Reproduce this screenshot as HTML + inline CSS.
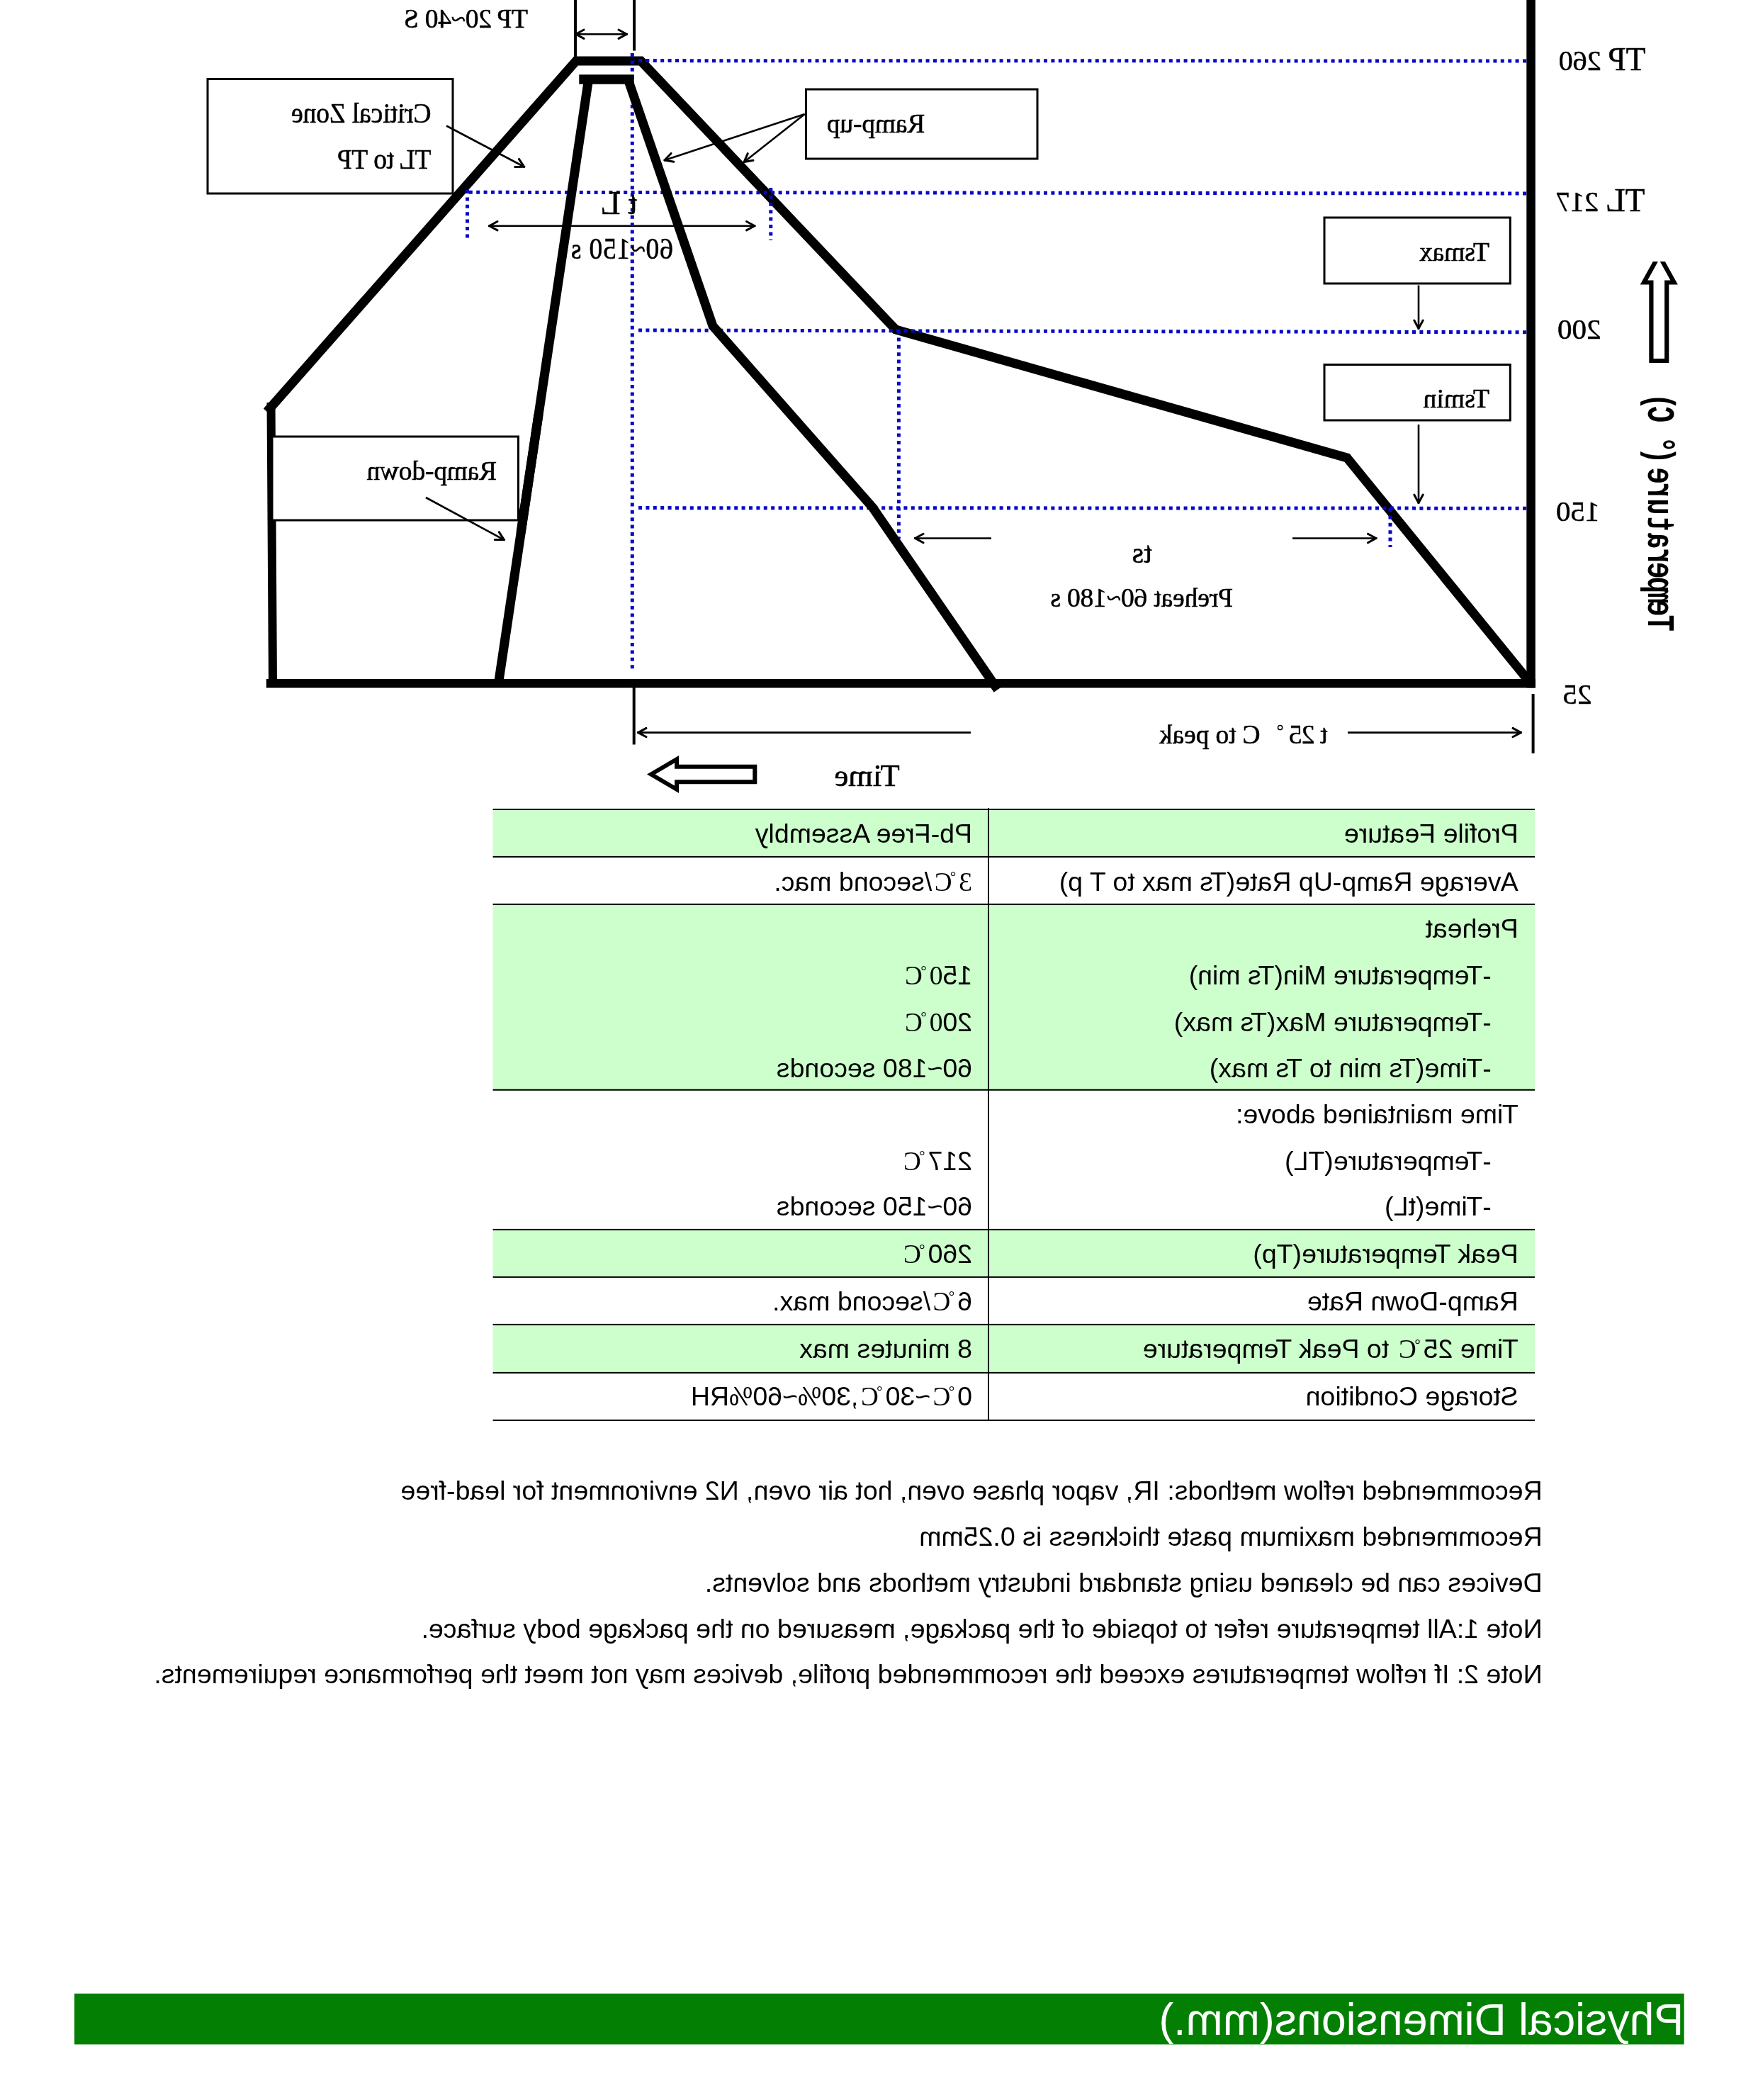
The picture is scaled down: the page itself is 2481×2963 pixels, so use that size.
<!DOCTYPE html>
<html lang="en"><head><meta charset="utf-8"><title>Reflow Profile</title>
<style>
html,body{margin:0;padding:0;background:#fff;}
body{width:2481px;height:2963px;position:relative;overflow:hidden;font-family:"Liberation Sans",sans-serif;}
svg text{white-space:pre;}
</style></head><body>
<svg width="2481" height="2963" viewBox="0 0 2481 2963" style="position:absolute;left:0;top:0;will-change:transform">
<defs>
<marker id="ah" viewBox="-16 -9 20 18" markerWidth="20" markerHeight="18" refX="1.5" refY="0" orient="auto-start-reverse" markerUnits="userSpaceOnUse">
<path d="M-11.5,-6.2 L0,0 L-11.5,6.2" fill="none" stroke="#000" stroke-width="3" stroke-linecap="round" stroke-linejoin="round"/>
</marker>
<clipPath id="cu"><rect x="2300" y="369" width="90" height="160"/></clipPath>
</defs>
<rect x="695.6" y="1142" width="1470.4" height="66.90000000000009" fill="#ccffcc"/>
<rect x="695.6" y="1275.9" width="1470.4" height="261.89999999999986" fill="#ccffcc"/>
<rect x="695.6" y="1734.9" width="1470.4" height="67.0" fill="#ccffcc"/>
<rect x="695.6" y="1868.9" width="1470.4" height="68.0" fill="#ccffcc"/>
<rect x="695.6" y="1141.0" width="1470.4" height="2" fill="#000"/>
<rect x="695.6" y="1207.9" width="1470.4" height="2" fill="#000"/>
<rect x="695.6" y="1274.9" width="1470.4" height="2" fill="#000"/>
<rect x="695.6" y="1536.8" width="1470.4" height="2" fill="#000"/>
<rect x="695.6" y="1733.9" width="1470.4" height="2" fill="#000"/>
<rect x="695.6" y="1800.9" width="1470.4" height="2" fill="#000"/>
<rect x="695.6" y="1867.9" width="1470.4" height="2" fill="#000"/>
<rect x="695.6" y="1935.9" width="1470.4" height="2" fill="#000"/>
<rect x="695.6" y="2002.9" width="1470.4" height="2" fill="#000"/>
<rect x="1394" y="1140" width="2" height="864.9000000000001" fill="#000"/>
<rect x="105" y="2812.8" width="2271.7" height="71.69999999999982" fill="#038003"/>
<line x1="812" y1="0" x2="812" y2="80" stroke="#000" stroke-width="4"/>
<line x1="895" y1="0" x2="895" y2="71.5" stroke="#000" stroke-width="4"/>
<line x1="811" y1="48.2" x2="886" y2="48.2" stroke="#000" stroke-width="2.6" marker-start="url(#ah)" marker-end="url(#ah)"/>
<line x1="689" y1="318.7" x2="1066.5" y2="318.7" stroke="#000" stroke-width="2.6" marker-start="url(#ah)" marker-end="url(#ah)"/>
<line x1="630" y1="177.5" x2="741" y2="236" stroke="#000" stroke-width="2.6" marker-end="url(#ah)"/>
<line x1="1135.7" y1="161" x2="936.6" y2="226.4" stroke="#000" stroke-width="2.6" marker-end="url(#ah)"/>
<line x1="1135.7" y1="161" x2="1048.9" y2="229.5" stroke="#000" stroke-width="2.6" marker-end="url(#ah)"/>
<line x1="2002" y1="402.5" x2="2002" y2="465" stroke="#000" stroke-width="2.6" marker-end="url(#ah)"/>
<line x1="2002" y1="599" x2="2002" y2="711" stroke="#000" stroke-width="2.6" marker-end="url(#ah)"/>
<line x1="1399" y1="759.5" x2="1290" y2="759.5" stroke="#000" stroke-width="2.6" marker-end="url(#ah)"/>
<line x1="1824" y1="759.5" x2="1943.5" y2="759.5" stroke="#000" stroke-width="2.6" marker-end="url(#ah)"/>
<line x1="894.7" y1="970" x2="894.7" y2="1050.5" stroke="#000" stroke-width="4"/>
<line x1="2163.6" y1="979" x2="2163.6" y2="1063" stroke="#000" stroke-width="4"/>
<line x1="1370" y1="1033.6" x2="899" y2="1033.6" stroke="#000" stroke-width="2.6" marker-end="url(#ah)"/>
<line x1="1902" y1="1033.6" x2="2148" y2="1033.6" stroke="#000" stroke-width="2.6" marker-end="url(#ah)"/>
<rect x="375.8" y="958" width="1791.2" height="12.5" fill="#000"/>
<rect x="2154.3" y="0" width="12.5" height="970.5" fill="#000"/>
<path d="M2160,964 L1901,646 L1264,465 L904.5,86 L813,86 L376.7,580.9" fill="none" stroke="#000" stroke-width="13" stroke-linejoin="miter" stroke-linecap="butt"/>
<line x1="382.5" y1="568" x2="385" y2="964" stroke="#000" stroke-width="12"/>
<line x1="2154" y1="86" x2="895" y2="85.6" stroke="#0808c8" stroke-width="5" stroke-dasharray="5 5.4" stroke-dashoffset="0"/>
<line x1="2154" y1="273" x2="657" y2="271.3" stroke="#0808c8" stroke-width="5" stroke-dasharray="5 5.4" stroke-dashoffset="0"/>
<line x1="2154" y1="468.8" x2="897" y2="466" stroke="#0808c8" stroke-width="5" stroke-dasharray="5 5.4" stroke-dashoffset="0"/>
<line x1="2154" y1="717.2" x2="899" y2="716.6" stroke="#0808c8" stroke-width="5" stroke-dasharray="5 5.4" stroke-dashoffset="0"/>
<line x1="892.3" y1="75" x2="892.3" y2="945" stroke="#0808c8" stroke-width="5" stroke-dasharray="5 5.4" stroke-dashoffset="0"/>
<line x1="659.5" y1="268" x2="659.5" y2="338" stroke="#0808c8" stroke-width="5" stroke-dasharray="5 5.4" stroke-dashoffset="0"/>
<line x1="1087.8" y1="265" x2="1087.8" y2="339" stroke="#0808c8" stroke-width="5" stroke-dasharray="5 5.4" stroke-dashoffset="0"/>
<line x1="1268.4" y1="466" x2="1268.4" y2="760" stroke="#0808c8" stroke-width="5" stroke-dasharray="5 5.4" stroke-dashoffset="0"/>
<line x1="1962" y1="717" x2="1962" y2="772" stroke="#0808c8" stroke-width="5" stroke-dasharray="5 5.4" stroke-dashoffset="0"/>
<line x1="817.3" y1="112" x2="894.7" y2="112" stroke="#000" stroke-width="13.5"/>
<line x1="830.6" y1="112" x2="703.5" y2="964" stroke="#000" stroke-width="13"/>
<path d="M886.3,112 L1006,460 L1231.5,716 L1408,973" fill="none" stroke="#000" stroke-width="13" stroke-linejoin="miter"/>
<rect x="293" y="111.5" width="346" height="161.5" fill="none" stroke="#000" stroke-width="3"/>
<rect x="1137.5" y="126" width="326.5" height="98" fill="none" stroke="#000" stroke-width="3"/>
<rect x="1869" y="307" width="262.3000000000002" height="93" fill="none" stroke="#000" stroke-width="3"/>
<rect x="1869" y="514.5" width="262.3000000000002" height="78.5" fill="none" stroke="#000" stroke-width="3"/>
<rect x="384" y="616" width="347.5" height="118" fill="#fff" stroke="#000" stroke-width="3"/>
<line x1="601" y1="702" x2="712.7" y2="762.3" stroke="#000" stroke-width="2.6" marker-end="url(#ah)"/>
<line x1="760" y1="585" x2="735" y2="752" stroke="#000" stroke-width="13"/>
<circle cx="1806.6" cy="1026.6" r="3.1" fill="none" stroke="#000" stroke-width="1.5"/>
<path d="M2330.4,509 L2330.4,398.5 L2320,398.5 L2341.3,360 L2362.6,398.5 L2352.2,398.5 L2352.2,509 Z" fill="#fff" stroke="#000" stroke-width="6.2" stroke-miterlimit="10" clip-path="url(#cu)"/>
<path d="M918.9,1092.5 L955.1,1071.2 L955.1,1081.7 L1065.3,1081.7 L1065.3,1103.3 L955.1,1103.3 L955.1,1113.8 Z" fill="#fff" stroke="#000" stroke-width="6" stroke-miterlimit="10"/>
<g transform="translate(2481,0) scale(-1,1)">
<text x="1736.0" y="38.5" font-family="Liberation Serif" font-size="37.5" textLength="175.0" lengthAdjust="spacing" stroke="#000" stroke-width="0.55">TP 20~40 S</text>
<text transform="translate(1872.5,172.5) scale(1,1.08)" font-family="Liberation Serif" font-size="37.5" textLength="197.5" lengthAdjust="spacing" stroke="#000" stroke-width="0.55">Critical Zone</text>
<text transform="translate(1872.5,238.0) scale(1,1.08)" font-family="Liberation Serif" font-size="37.5" textLength="132.5" lengthAdjust="spacing" stroke="#000" stroke-width="0.55">TL to TP</text>
<text x="1581.7" y="302.4" font-family="Liberation Serif" font-size="46" textLength="52.0" lengthAdjust="spacing" stroke="#000" stroke-width="0.55">t L</text>
<text transform="translate(1531.1,365.3) scale(1,1.1)" font-family="Liberation Serif" font-size="37.5" textLength="144.0" lengthAdjust="spacing" stroke="#000" stroke-width="0.55">60~150 s</text>
<text x="1175.7" y="186.6" font-family="Liberation Serif" font-size="37.5" textLength="138.6" lengthAdjust="spacing" stroke="#000" stroke-width="0.55">Ramp-up</text>
<text x="379.0" y="368.4" font-family="Liberation Serif" font-size="37.5" textLength="99.0" lengthAdjust="spacing" stroke="#000" stroke-width="0.55">Tsmax</text>
<text x="379.0" y="575.2" font-family="Liberation Serif" font-size="37.5" textLength="93.4" lengthAdjust="spacing" stroke="#000" stroke-width="0.55">Tsmin</text>
<text x="1780.0" y="677.0" font-family="Liberation Serif" font-size="37.5" textLength="183.5" lengthAdjust="spacing" stroke="#000" stroke-width="0.55">Ramp-down</text>
<text x="855.3" y="793.8" font-family="Liberation Serif" font-size="42" stroke="#000" stroke-width="0.55">ts</text>
<text x="741.0" y="855.6" font-family="Liberation Serif" font-size="37.5" textLength="257.7" lengthAdjust="spacing" stroke="#000" stroke-width="0.55">Preheat 60~180 s</text>
<text x="607.4" y="1049.0" font-family="Liberation Serif" font-size="37.5" textLength="54.6" lengthAdjust="spacing" stroke="#000" stroke-width="0.55">t 25</text>
<text x="702.6" y="1049.0" font-family="Liberation Serif" font-size="37.5" textLength="142.3" lengthAdjust="spacing" stroke="#000" stroke-width="0.55">C to peak</text>
<text x="1211.2" y="1109.2" font-family="Liberation Serif" font-size="44.5" stroke="#000" stroke-width="0.55">Time</text>
<text x="158.5" y="98.8" font-family="Liberation Serif" font-size="45.5" stroke="#000" stroke-width="0.55">TP</text>
<text x="221.3" y="99.1" font-family="Liberation Serif" font-size="40" stroke="#000" stroke-width="0.55">260</text>
<text x="159.5" y="297.8" font-family="Liberation Serif" font-size="45.5" stroke="#000" stroke-width="0.55">TL</text>
<text x="224.9" y="298.0" font-family="Liberation Serif" font-size="40" stroke="#000" stroke-width="0.55">217</text>
<text x="221.6" y="478.4" font-family="Liberation Serif" font-size="41" stroke="#000" stroke-width="0.55">200</text>
<text x="223.6" y="734.5" font-family="Liberation Serif" font-size="41" stroke="#000" stroke-width="0.55">150</text>
<text x="234.5" y="992.6" font-family="Liberation Serif" font-size="41" stroke="#000" stroke-width="0.55">25</text>
<text x="338.2" y="1189.2" font-family="Liberation Sans" font-size="37.5">Profile Feature</text>
<text x="1108.9" y="1189.2" font-family="Liberation Sans" font-size="37.5">Pb-Free Assembly</text>
<text x="338.2" y="1256.6" font-family="Liberation Sans" font-size="37.5">Average Ramp-Up Rate(Ts max to T p)</text>
<text x="1108.9" y="1256.6" font-family="Liberation Sans" font-size="37.5"><tspan font-family="Liberation Serif">3</tspan><tspan font-family="Liberation Serif" font-size="21" dy="-12.5" dx="4">°</tspan><tspan font-family="Liberation Serif" font-size="37" dy="12.5" dx="-2.5" letter-spacing="3.5">C</tspan>/second mac.</text>
<text x="338.2" y="1323.0" font-family="Liberation Sans" font-size="37.5">Preheat</text>
<text x="376.2" y="1389.2" font-family="Liberation Sans" font-size="37.5">-Temperature Min(Ts min)</text>
<text x="1108.9" y="1389.2" font-family="Liberation Sans" font-size="37.5">15<tspan font-family="Liberation Serif">0</tspan><tspan font-family="Liberation Serif" font-size="21" dy="-12.5" dx="4">°</tspan><tspan font-family="Liberation Serif" font-size="37" dy="12.5" dx="-2.5" letter-spacing="3.5">C</tspan></text>
<text x="376.2" y="1454.5" font-family="Liberation Sans" font-size="37.5">-Temperature Max(Ts max)</text>
<text x="1108.9" y="1454.5" font-family="Liberation Sans" font-size="37.5">20<tspan font-family="Liberation Serif">0</tspan><tspan font-family="Liberation Serif" font-size="21" dy="-12.5" dx="4">°</tspan><tspan font-family="Liberation Serif" font-size="37" dy="12.5" dx="-2.5" letter-spacing="3.5">C</tspan></text>
<text x="376.2" y="1519.8" font-family="Liberation Sans" font-size="37.5">-Time(Ts min to Ts max)</text>
<text x="1108.9" y="1519.8" font-family="Liberation Sans" font-size="37.5">60~180 seconds</text>
<text x="338.2" y="1585.4" font-family="Liberation Sans" font-size="37.5">Time maintained above:</text>
<text x="376.2" y="1650.7" font-family="Liberation Sans" font-size="37.5">-Temperature(TL)</text>
<text x="1108.9" y="1650.7" font-family="Liberation Sans" font-size="37.5">217<tspan font-family="Liberation Serif" font-size="21" dy="-12.5" dx="4">°</tspan><tspan font-family="Liberation Serif" font-size="37" dy="12.5" dx="-2.5" letter-spacing="3.5">C</tspan></text>
<text x="376.2" y="1714.6" font-family="Liberation Sans" font-size="37.5">-Time(tL)</text>
<text x="1108.9" y="1714.6" font-family="Liberation Sans" font-size="37.5">60~150 seconds</text>
<text x="338.2" y="1782.2" font-family="Liberation Sans" font-size="37.5">Peak Temperature(Tp)</text>
<text x="1108.9" y="1782.2" font-family="Liberation Sans" font-size="37.5">260<tspan font-family="Liberation Serif" font-size="21" dy="-12.5" dx="4">°</tspan><tspan font-family="Liberation Serif" font-size="37" dy="12.5" dx="-2.5" letter-spacing="3.5">C</tspan></text>
<text x="338.2" y="1848.9" font-family="Liberation Sans" font-size="37.5">Ramp-Down Rate</text>
<text x="1108.9" y="1848.9" font-family="Liberation Sans" font-size="37.5">6<tspan font-family="Liberation Serif" font-size="21" dy="-12.5" dx="4">°</tspan><tspan font-family="Liberation Serif" font-size="37" dy="12.5" dx="-2.5" letter-spacing="3.5">C</tspan>/second max.</text>
<text x="338.2" y="1916.0" font-family="Liberation Sans" font-size="37.5">Time 25<tspan font-family="Liberation Serif" font-size="21" dy="-12.5" dx="4">°</tspan><tspan font-family="Liberation Serif" font-size="37" dy="12.5" dx="-2.5" letter-spacing="3.5">C</tspan> to Peak Temperature</text>
<text x="1108.9" y="1916.0" font-family="Liberation Sans" font-size="37.5">8 minutes max</text>
<text x="338.2" y="1982.8" font-family="Liberation Sans" font-size="37.5">Storage Condition</text>
<text x="1108.9" y="1982.8" font-family="Liberation Sans" font-size="37.5">0<tspan font-family="Liberation Serif" font-size="21" dy="-12.5" dx="4">°</tspan><tspan font-family="Liberation Serif" font-size="37" dy="12.5" dx="-2.5" letter-spacing="3.5">C</tspan>~30<tspan font-family="Liberation Serif" font-size="21" dy="-12.5" dx="4">°</tspan><tspan font-family="Liberation Serif" font-size="37" dy="12.5" dx="-2.5" letter-spacing="3.5">C</tspan>,30%~60%RH</text>
<text x="304.3" y="2115.6" font-family="Liberation Sans" font-size="37.5">Recommended reflow methods: IR, vapor phase oven, hot air oven, N2 environment for lead-free</text>
<text x="304.3" y="2181.2" font-family="Liberation Sans" font-size="37.5">Recommended maximum paste thickness is 0.25mm</text>
<text x="304.3" y="2245.5" font-family="Liberation Sans" font-size="37.5">Devices can be cleaned using standard industry methods and solvents.</text>
<text x="304.3" y="2310.6" font-family="Liberation Sans" font-size="37.5">Note 1:All temperature refer to topside of the package, measured on the package body surface.</text>
<text x="304.3" y="2375.0" font-family="Liberation Sans" font-size="37.5">Note 2: If reflow temperatures exceed the recommended profile, devices may not meet the performance requirements.</text>
<text x="104.8" y="2871.3" font-family="Liberation Sans" font-size="62.6" fill="#fff">Physical Dimensions(mm.)</text>
<text transform="translate(155,889.5) rotate(-90) scale(0.72,1)" x="-2.0 27.7 52.7 73.0 101.6 130.0 159.8 193.1 226.4 258.7 287.1 326.4 347.8 407.3 432.3" y="0" font-family="Liberation Mono" font-weight="bold" font-size="54">Temperature(°C)</text>
</g>
</svg>
</body></html>
